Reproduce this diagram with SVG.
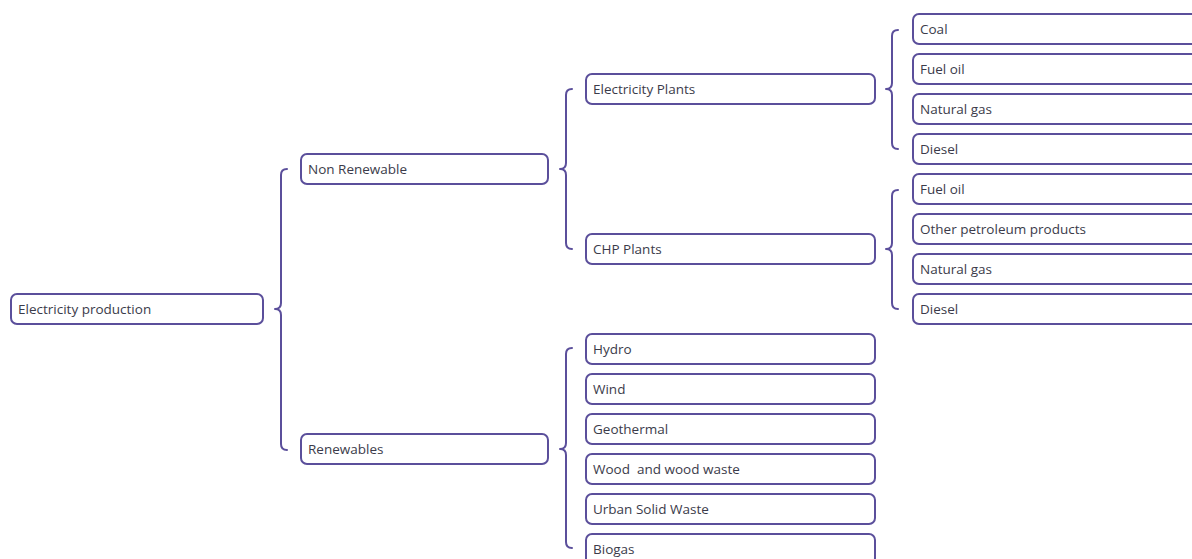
<svg xmlns="http://www.w3.org/2000/svg" width="1192" height="559" viewBox="0 0 1192 559">
  <style>
    .box { fill: #ffffff; stroke: #5b4f9b; stroke-width: 2; }
    .brace { fill: none; stroke: #5b4f9b; stroke-width: 2; stroke-linejoin: round; stroke-linecap: round; }
    .label { font-family: "Open Sans", "Liberation Sans", sans-serif; font-size: 13.5px; fill: #3b3b4a; }
  </style>
  <rect width="1192" height="559" fill="#ffffff"/>

  <!-- braces connecting parents to children -->
  <g id="connectors">
    <path class="brace" d="M287,169 Q281,169 281,175 L281,303 Q281,309 275,309 Q281,309 281,315 L281,444 Q281,450 287,450"/>
    <path class="brace" d="M572,89 Q566,89 566,95 L566,163 Q566,169 560,169 Q566,169 566,175 L566,243 Q566,249 572,249"/>
    <path class="brace" d="M572,348 Q566,348 566,354 L566,443 Q566,449 560,449 Q566,449 566,455 L566,542 Q566,548 572,548"/>
    <path class="brace" d="M898,30 Q892,30 892,36 L892,83 Q892,89 886,89 Q892,89 892,95 L892,143 Q892,149 898,149"/>
    <path class="brace" d="M898,190 Q892,190 892,196 L892,243 Q892,249 886,249 Q892,249 892,255 L892,303 Q892,309 898,309"/>
  </g>

  <g id="root">
    <rect class="box" x="11" y="294" width="252" height="30" rx="6"/>
    <text class="label" x="18" y="313.5">Electricity production</text>
  </g>

  <g id="non-renewable">
    <rect class="box" x="301" y="154" width="247" height="30" rx="6"/>
    <text class="label" x="308" y="173.5">Non Renewable</text>
  </g>
  <g id="renewables">
    <rect class="box" x="301" y="434" width="247" height="30" rx="6"/>
    <text class="label" x="308" y="453.5">Renewables</text>
  </g>

  <g id="electricity-plants">
    <rect class="box" x="586" y="74" width="289" height="30" rx="6"/>
    <text class="label" x="593" y="93.5">Electricity Plants</text>
  </g>
  <g id="chp-plants">
    <rect class="box" x="586" y="234" width="289" height="30" rx="6"/>
    <text class="label" x="593" y="253.5">CHP Plants</text>
  </g>

  <g id="hydro">
    <rect class="box" x="586" y="334" width="289" height="30" rx="6"/>
    <text class="label" x="593" y="353.5">Hydro</text>
  </g>
  <g id="wind">
    <rect class="box" x="586" y="374" width="289" height="30" rx="6"/>
    <text class="label" x="593" y="393.5">Wind</text>
  </g>
  <g id="geothermal">
    <rect class="box" x="586" y="414" width="289" height="30" rx="6"/>
    <text class="label" x="593" y="433.5">Geothermal</text>
  </g>
  <g id="wood">
    <rect class="box" x="586" y="454" width="289" height="30" rx="6"/>
    <text class="label" x="593" y="473.5" xml:space="preserve">Wood  and wood waste</text>
  </g>
  <g id="urban-solid-waste">
    <rect class="box" x="586" y="494" width="289" height="30" rx="6"/>
    <text class="label" x="593" y="513.5">Urban Solid Waste</text>
  </g>
  <g id="biogas">
    <rect class="box" x="586" y="534" width="289" height="30" rx="6"/>
    <text class="label" x="593" y="553.5">Biogas</text>
  </g>

  <g id="ep-coal">
    <rect class="box" x="913" y="14" width="300" height="30" rx="6"/>
    <text class="label" x="920" y="33.5">Coal</text>
  </g>
  <g id="ep-fuel-oil">
    <rect class="box" x="913" y="54" width="300" height="30" rx="6"/>
    <text class="label" x="920" y="73.5">Fuel oil</text>
  </g>
  <g id="ep-natural-gas">
    <rect class="box" x="913" y="94" width="300" height="30" rx="6"/>
    <text class="label" x="920" y="113.5">Natural gas</text>
  </g>
  <g id="ep-diesel">
    <rect class="box" x="913" y="134" width="300" height="30" rx="6"/>
    <text class="label" x="920" y="153.5">Diesel</text>
  </g>

  <g id="chp-fuel-oil">
    <rect class="box" x="913" y="174" width="300" height="30" rx="6"/>
    <text class="label" x="920" y="193.5">Fuel oil</text>
  </g>
  <g id="chp-other-petroleum">
    <rect class="box" x="913" y="214" width="300" height="30" rx="6"/>
    <text class="label" x="920" y="233.5">Other petroleum products</text>
  </g>
  <g id="chp-natural-gas">
    <rect class="box" x="913" y="254" width="300" height="30" rx="6"/>
    <text class="label" x="920" y="273.5">Natural gas</text>
  </g>
  <g id="chp-diesel">
    <rect class="box" x="913" y="294" width="300" height="30" rx="6"/>
    <text class="label" x="920" y="313.5">Diesel</text>
  </g>
</svg>
